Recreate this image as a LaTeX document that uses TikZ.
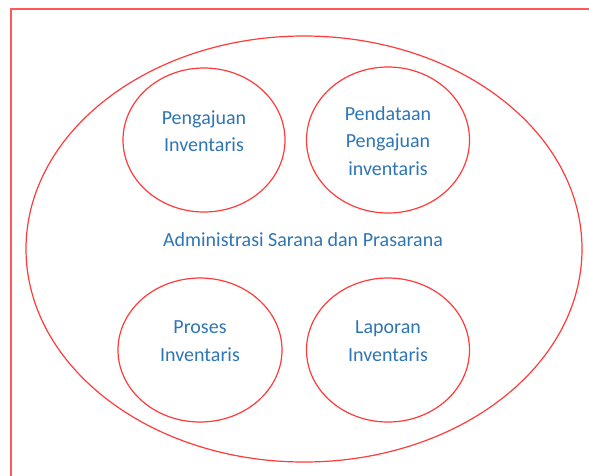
\documentclass[tikz,border=0pt]{standalone}
\usepackage{fontspec}
\setmainfont{Carlito}
\usetikzlibrary{shapes.geometric}
\definecolor{linered}{HTML}{FF3B3B}
\definecolor{textblue}{HTML}{2E75B6}
\begin{document}
\begin{tikzpicture}[x = 1pt, y = -1pt]
    \clip (0, 0) rectangle (589, 475);

    \tikzstyle{bubble} = [ellipse, draw = linered, line width = 1.2pt, inner sep = 0pt]
    \tikzstyle{tulisan} = [text = textblue, align = center, font = \fontsize{20}{27.5}\selectfont]
    \tikzstyle{frame} = [draw = linered!85, line width = 1.2pt]

    \draw[frame] (11, 9) rectangle (620, 500);

    \node[bubble, minimum width = 556pt, minimum height = 426pt] (admin) at (304, 249) {};
    \node[tulisan] (judul) at (303, 240) {Administrasi Sarana dan Prasarana};

    \node[bubble, minimum width = 162pt, minimum height = 144pt] (ajuan) at (204, 140) {};
    \node[tulisan] (ajuanteks) at (204, 131) {Pengajuan\\Inventaris};

    \node[bubble, minimum width = 163pt, minimum height = 146pt] (data) at (388, 140) {};
    \node[tulisan] (datateks) at (388, 141) {Pendataan\\Pengajuan\\inventaris};

    \node[bubble, minimum width = 164pt, minimum height = 144pt] (proses) at (200, 350) {};
    \node[tulisan] (prosesteks) at (200, 341) {Proses\\Inventaris};

    \node[bubble, minimum width = 163pt, minimum height = 144pt] (lapor) at (388, 350) {};
    \node[tulisan] (laporteks) at (388, 341) {Laporan\\Inventaris};
\end{tikzpicture}
\end{document}
